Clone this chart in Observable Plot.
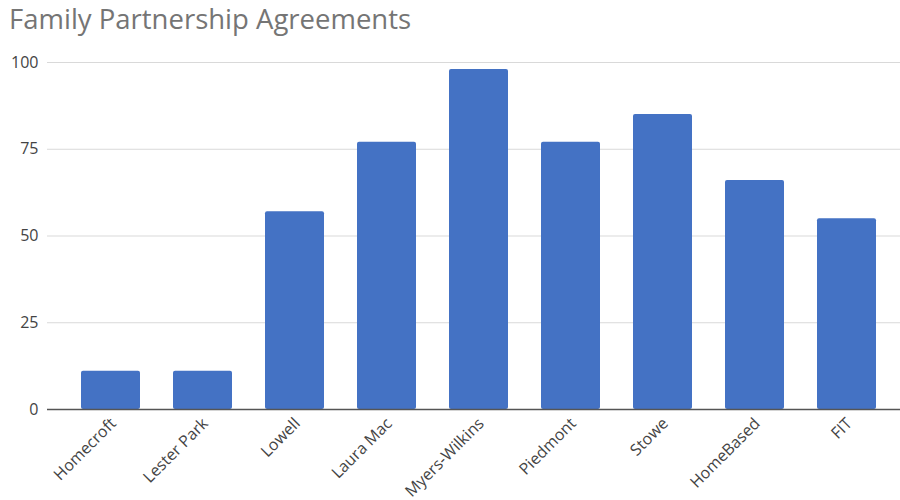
<!DOCTYPE html>
<html>
<head>
<meta charset="utf-8">
<script src="https://cdn.jsdelivr.net/npm/d3@7"></script>
<script src="https://cdn.jsdelivr.net/npm/@observablehq/plot@0.6"></script>
<style>
  body { margin: 0; background: #fff; }
  #wrap { width: 900px; height: 500px; position: relative; overflow: hidden; font-family: "Open Sans", sans-serif; }
  #title { height: 40px; box-sizing: border-box; padding: 5px 0 0 9px; font-size: 27.5px; line-height: 27.5px; color: #757575; white-space: nowrap; }
</style>
</head>
<body>
<div id="wrap">
  <div id="title">Family Partnership Agreements</div>
  <div id="chart"></div>
</div>
<script>
const categories = ["Homecroft", "Lester Park", "Lowell", "Laura Mac", "Myers-Wilkins", "Piedmont", "Stowe", "HomeBased", "FIT"];
const values = [11, 11, 57, 77, 98, 77, 85, 66, 55];
const yTicks = [0, 25, 50, 75, 100];

const data = categories.map((c, i) => ({name: c, value: values[i]}));

const chart = Plot.plot({
  width: 900,
  height: 460,
  marginTop: 22,
  marginBottom: 91,
  marginLeft: 47,
  marginRight: 0,
  style: {fontFamily: "Open Sans, sans-serif", fontSize: "16px", color: "#444", background: "#fff"},
  x: {domain: categories, paddingInner: 0.36, paddingOuter: 0.18, insetLeft: 17.5, insetRight: 7.5, axis: null},
  y: {domain: [0, 100], ticks: yTicks, label: null},
  marks: [
    Plot.ruleY(yTicks.filter(t => t > 0), {stroke: "#d9d9d9", strokeWidth: 1}),
    Plot.axisY({ticks: yTicks, tickSize: 0, tickPadding: 9, fontSize: 16, fill: "#444", label: null}),
    Plot.barY(data, {x: "name", y: "value", fill: "#4472c4", rx: 2}),
    Plot.ruleY([0], {stroke: "#555", strokeWidth: 1.5}),
    Plot.text(categories, {x: d => d, frameAnchor: "bottom", rotate: -45, textAnchor: "end", dx: 6, dy: 15, fontSize: 16, fill: "#444"})
  ]
});
document.getElementById("chart").appendChild(chart);
</script>
</body>
</html>
